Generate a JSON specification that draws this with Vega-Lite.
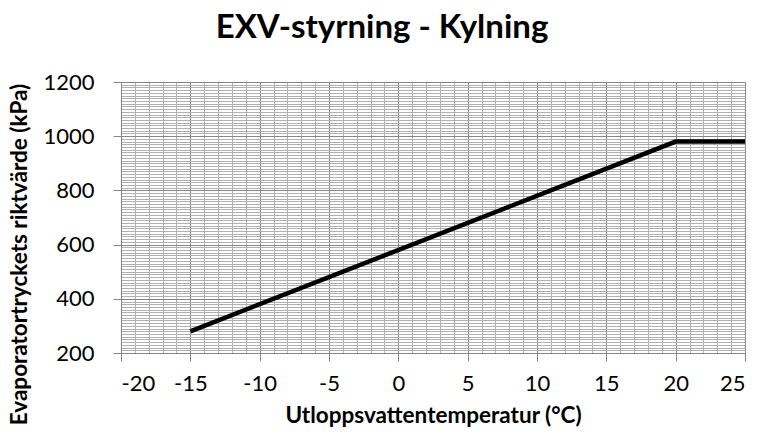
{
  "$schema": "https://vega.github.io/schema/vega-lite/v6.json",
  "width": 624,
  "height": 271,
  "autosize": "none",
  "padding": {"left": 121, "top": 82, "right": 15, "bottom": 84},
  "background": "white",
  "title": {
    "text": "EXV-styrning - Kylning",
    "font": "Lato",
    "fontSize": 33,
    "fontWeight": "bold",
    "color": "#000000",
    "anchor": "middle",
    "dx": -51,
    "offset": 26
  },
  "config": {"view": {"stroke": null, "fill": "white"}},
  "data": {
    "values": [
      {"temp": -15, "pressure": 280},
      {"temp": 20, "pressure": 980},
      {"temp": 25, "pressure": 980}
    ]
  },
  "mark": {"type": "line", "color": "#000000", "strokeWidth": 4.5, "strokeCap": "butt", "strokeJoin": "miter"},
  "encoding": {
    "x": {
      "field": "temp",
      "type": "quantitative",
      "scale": {"domain": [-20, 25], "nice": false, "zero": false},
      "axis": {
        "values": [-20,-19,-18,-17,-16,-15,-14,-13,-12,-11,-10,-9,-8,-7,-6,-5,-4,-3,-2,-1,0,1,2,3,4,5,6,7,8,9,10,11,12,13,14,15,16,17,18,19,20,21,22,23,24,25],
        "labelExpr": "datum.value % 5 === 0 ? '' + datum.value : ''",
        "labelOverlap": false,
        "labelFont": "Lato",
        "labelFontSize": 22,
        "labelColor": "#000000",
        "labelPadding": 12,
        "grid": true,
        "gridColor": {"condition": {"test": "datum.value % 5 === 0", "value": "#868686"}, "value": "#b0b0b0"},
        "gridWidth": 1,
        "tickColor": "#868686",
        "tickOpacity": {"condition": {"test": "datum.value % 5 === 0", "value": 1}, "value": 0},
        "tickSize": 8,
        "domainColor": "#868686",
        "title": "Utloppsvattentemperatur (°C)",
        "titleFont": "Lato",
        "titleFontSize": 22.5,
        "titleFontWeight": "bold",
        "titleColor": "#000000",
        "titlePadding": 10
      }
    },
    "y": {
      "field": "pressure",
      "type": "quantitative",
      "scale": {"domain": [200, 1200], "nice": false, "zero": false},
      "axis": {
        "values": [200,210,220,230,240,250,260,270,280,290,300,310,320,330,340,350,360,370,380,390,400,410,420,430,440,450,460,470,480,490,500,510,520,530,540,550,560,570,580,590,600,610,620,630,640,650,660,670,680,690,700,710,720,730,740,750,760,770,780,790,800,810,820,830,840,850,860,870,880,890,900,910,920,930,940,950,960,970,980,990,1000,1010,1020,1030,1040,1050,1060,1070,1080,1090,1100,1110,1120,1130,1140,1150,1160,1170,1180,1190,1200],
        "labelExpr": "datum.value % 200 === 0 ? '' + datum.value : ''",
        "labelOverlap": false,
        "labelFont": "Lato",
        "labelFontSize": 22,
        "labelColor": "#000000",
        "labelPadding": 19,
        "grid": true,
        "gridColor": {"condition": {"test": "datum.value % 200 === 0", "value": "#868686"}, "value": "#b0b0b0"},
        "gridWidth": 1,
        "tickColor": "#868686",
        "tickOpacity": {"condition": {"test": "datum.value % 200 === 0", "value": 1}, "value": 0},
        "tickSize": 8,
        "domainColor": "#868686",
        "title": "Evaporatortryckets riktvärde (kPa)",
        "titleFont": "Lato",
        "titleFontSize": 22.5,
        "titleFontWeight": "bold",
        "titleColor": "#000000",
        "titleAngle": -90,
        "titleAlign": "center",
        "titleBaseline": "middle",
        "titleX": -102,
        "titleY": 172
      }
    }
  }
}
